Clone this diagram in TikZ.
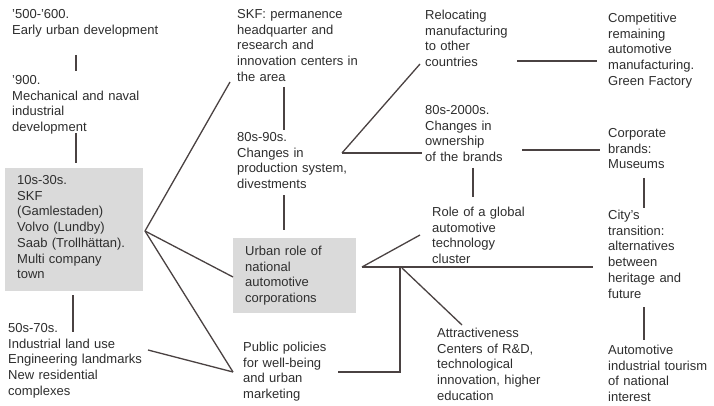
\documentclass[tikz,border=0pt]{standalone}
\usepackage{fontspec}
\setmainfont{Liberation Sans}
\definecolor{txt}{HTML}{2E2E2E}
\definecolor{ln}{HTML}{4A4242}
\definecolor{boxg}{HTML}{DADADA}
\begin{document}
\begin{tikzpicture}[x=1pt,y=-1pt,
  lbl/.style={anchor=base west,inner sep=0pt,text width=220pt,align=left,text=txt,
    font=\fontsize{13}{15.7}\selectfont},
  conn/.style={draw=ln,line width=1.3pt},
  graybox/.style={fill=boxg}]
\useasboundingbox (0,0) rectangle (714,406);
\fill[white] (0,0) rectangle (714,406);
% gray boxes
\fill[graybox] (5,168) rectangle (143,291);
\fill[graybox] (233,238) rectangle (356,313);
% texts
\node[lbl] (t500) at (12,18.5) {'500-'600.\\Early urban development};
\node[lbl] (t900) at (12,84.5) {'900.\\Mechanical and naval\\industrial\\development};
\node[lbl] (t10s) at (17,184.5) {10s-30s.\\SKF\\(Gamlestaden)\\Volvo (Lundby)\\Saab (Trollhättan).\\Multi company\\town};
\node[lbl] (t50s) at (8,332.5) {50s-70s.\\Industrial land use\\Engineering landmarks\\New residential\\complexes};
\node[lbl] (tskf) at (237,18.5) {SKF: permanence\\headquarter and\\research and\\innovation centers in\\the area};
\node[lbl] (t80s) at (237,141.5) {80s-90s.\\Changes in\\production system,\\divestments};
\node[lbl] (turb) at (245,255.5) {Urban role of\\national\\automotive\\corporations};
\node[lbl] (tpub) at (243,351.5) {Public policies\\for well-being\\and urban\\marketing};
\node[lbl] (trel) at (425,19.5) {Relocating\\manufacturing\\to other\\countries};
\node[lbl] (t2000) at (425,114.5) {80s-2000s.\\Changes in\\ownership\\of the brands};
\node[lbl] (trole) at (432,216.5) {Role of a global\\automotive\\technology\\cluster};
\node[lbl] (tattr) at (437,337.5) {Attractiveness\\Centers of R\&D,\\technological\\innovation, higher\\education};
\node[lbl] (tcomp) at (608,22.5) {Competitive\\remaining\\automotive\\manufacturing.\\Green Factory};
\node[lbl] (tcorp) at (608,137.5) {Corporate\\brands:\\Museums};
\node[lbl] (tcity) at (608,219.5) {City's\\transition:\\alternatives\\between\\heritage and\\future};
\node[lbl] (ttour) at (608,354.5) {Automotive\\industrial tourism\\of national\\interest};
% connection points
\coordinate (a1) at (76,55);   \coordinate (a2) at (76,71);
\coordinate (b1) at (76,133);  \coordinate (b2) at (76,163);
\coordinate (c1) at (73,295);  \coordinate (c2) at (73,332);
\coordinate (bx) at (145,231);
\coordinate (skfl) at (230,82);
\coordinate (urbl) at (233,277);
\coordinate (publ) at (233,372);
\coordinate (f50) at (148,350);
\coordinate (d1) at (284,87);  \coordinate (d2) at (284,130);
\coordinate (e1) at (284,195); \coordinate (e2) at (284,230);
\coordinate (p80) at (342,153);
\coordinate (relb) at (420,64);
\coordinate (o2000) at (422,153);
\coordinate (g1) at (517,61);  \coordinate (g2) at (597,61);
\coordinate (h1) at (522,150); \coordinate (h2) at (600,150);
\coordinate (i1) at (473,168); \coordinate (i2) at (473,197);
\coordinate (j1) at (644,178); \coordinate (j2) at (644,208);
\coordinate (k1) at (644,307); \coordinate (k2) at (644,340);
\coordinate (urbr) at (362,267);
\coordinate (rolel) at (420,235);
\coordinate (cityl) at (593,267);
\coordinate (br) at (400,267);
\coordinate (pubr) at (338,372);
\coordinate (br2) at (402,268);
\coordinate (attrl) at (462,325);
% connectors
\draw[conn] (a1) -- (a2);
\draw[conn] (b1) -- (b2);
\draw[conn] (c1) -- (c2);
\draw[conn] (bx) -- (skfl);
\draw[conn] (bx) -- (urbl);
\draw[conn] (bx) -- (publ);
\draw[conn] (f50) -- (publ);
\draw[conn] (d1) -- (d2);
\draw[conn] (e1) -- (e2);
\draw[conn] (p80) -- (relb);
\draw[conn] (p80) -- (o2000);
\draw[conn] (g1) -- (g2);
\draw[conn] (h1) -- (h2);
\draw[conn] (i1) -- (i2);
\draw[conn] (j1) -- (j2);
\draw[conn] (k1) -- (k2);
\draw[conn] (urbr) -- (rolel);
\draw[conn] (urbr) -- (cityl);
\draw[conn] (br) |- (pubr);
\draw[conn] (br2) -- (attrl);
\end{tikzpicture}
\end{document}
